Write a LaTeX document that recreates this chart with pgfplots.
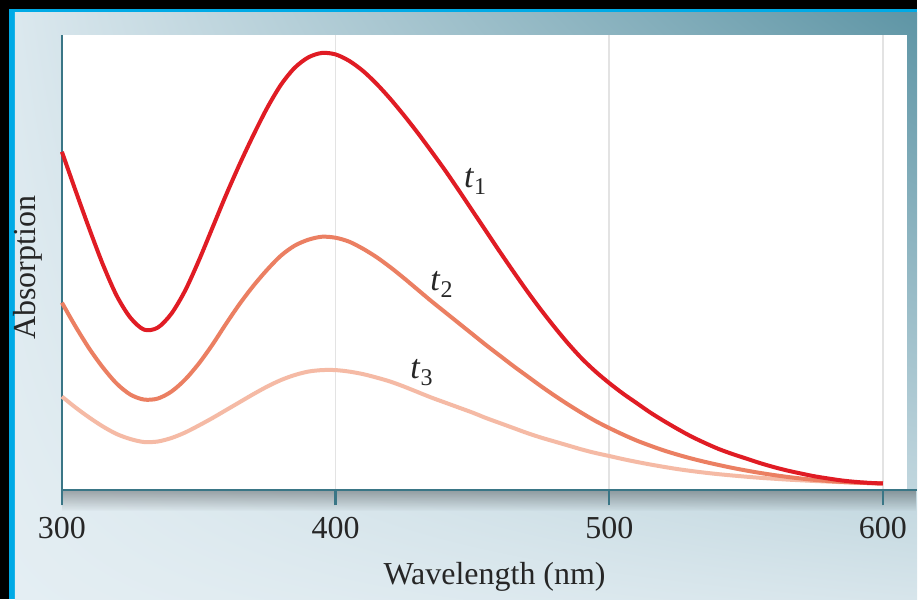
\documentclass[border=0pt]{standalone}
\usepackage{pgfplots}
\usepackage{pgfplotstable}
\pgfplotsset{compat=1.18}
\usepackage{fontspec}
\setmainfont{Liberation Serif}
\usetikzlibrary{fadings,shadings}
\definecolor{tone}{RGB}{224,28,36}
\definecolor{ttwo}{RGB}{235,127,98}
\definecolor{tthree}{RGB}{245,186,165}
\definecolor{axiscol}{RGB}{58,118,134}
\definecolor{framecyan}{RGB}{0,170,230}
\definecolor{pul}{RGB}{219,232,238}
\definecolor{pur}{RGB}{94,149,165}
\definecolor{pll}{RGB}{228,238,243}
\definecolor{plr}{RGB}{215,229,235}

% absorption spectra (arbitrary units)
\pgfplotstableread{
x y
300 339
305 300
310 262
315 226
320 195
325 173
330 161
335 163
340 177
345 200
350 230
355 263
360 296
365 327
370 356
375 383
380 406
385 423
390 433.5
395 438
400 436.5
405 430
410 420
415 407
420 392
425 375.5
430 358
435 339.5
440 320.5
445 300.5
450 280
455 259.5
460 239
465 219
470 199.5
475 181
480 163.5
485 147
490 132
495 119
500 107.5
505 97
510 87.5
515 78
520 69.5
525 61.5
530 54
535 47.5
540 41.5
545 36.5
550 32
555 27.5
560 23.5
565 20
570 17
575 14.2
580 12
585 10
590 8.6
595 7.6
600 7
}\tone
\pgfplotstableread{
x y
300 188
305 164
310 142
315 123
320 107
325 96
330 91
335 92
340 99
345 111
350 127
355 146
360 167
365 187
370 205
375 221
380 235
385 245
390 251
395 254
400 253
405 249
410 242
415 233.5
420 223.5
425 212.5
430 201
435 189.5
440 178.5
445 167.5
450 156.5
455 145.5
460 135
465 124.5
470 114.5
475 104.5
480 95
485 86
490 77.5
495 69.5
500 62.5
505 56
510 50
515 44.8
520 40
525 35.8
530 32
535 28.6
540 25.5
545 22.6
550 20
555 17.6
560 15.5
565 13.6
570 12
575 10.6
580 9.5
585 8.6
590 7.9
595 7.4
600 7
}\ttwo
\pgfplotstableread{
x y
300 94
305 83
310 73
315 64
320 56.5
325 51.5
330 48.5
335 49
340 52.5
345 58
350 65
355 72.5
360 80.5
365 88.5
370 96.5
375 104
380 110.5
385 115.5
390 119
395 120.5
400 120.5
405 119
410 116.5
415 113
420 109
425 104
430 98.5
435 93
440 88
445 83
450 78
455 72.5
460 67.5
465 62.5
470 57.5
475 53
480 49
485 45
490 41
495 37.5
500 34.5
505 31.4
510 28.6
515 26
520 23.6
525 21.4
530 19.5
535 17.8
540 16.3
545 15
550 13.8
555 12.7
560 11.8
565 10.9
570 10.2
575 9.5
580 8.9
585 8.3
590 7.8
595 7.4
600 7
}\tthree

\begin{document}
\begin{tikzpicture}
% frame and panel
\fill[black] (0pt,0pt) rectangle (459pt,300pt);
\fill[framecyan] (4.5pt,0pt) rectangle (459pt,295.5pt);
\shade[upper left=pul, upper right=pur, lower left=pll, lower right=plr] (7.5pt,0pt) rectangle (459pt,293.5pt);
\fill[black, opacity=0.3, path fading=south] (31pt,44pt) rectangle (459pt,54.5pt);
\begin{axis}[
  at={(31pt,54.5pt)}, anchor=south west,
  scale only axis,
  width=423pt, height=228pt,
  xmin=300, xmax=608.8,
  ymin=0, ymax=456,
  axis background/.style={fill=white},
  axis x line=bottom, axis y line=left,
  axis line style={-, axiscol, line width=1pt},
  xtick={300,400,500,600},
  ytick=\empty,
  xtick align=outside,
  major tick length=7.5pt,
  xtick style={draw=axiscol, line width=1.2pt},
  xmajorgrids,
  grid style={gray!22, line width=0.8pt},
  /pgf/number format/assume math mode=true,
  tick label style={font=\fontsize{16}{16}\selectfont, text=black!85},
  xticklabel style={yshift=-2.5pt},
  xlabel={Wavelength (nm)},
  ylabel={Absorption},
  label style={font=\fontsize{16}{16}\selectfont, text=black!85},
  xlabel style={at={(axis description cs:0.512,-0.189)}, anchor=center},
  ylabel style={at={(axis description cs:-0.040,0.489)}, anchor=center, rotate=0},
  clip=false,
]
\addplot[tthree, line width=2pt, smooth] table[x=x, y=y] {\tthree};
\addplot[ttwo, line width=2pt, smooth] table[x=x, y=y] {\ttwo};
\addplot[tone, line width=2pt, smooth] table[x=x, y=y] {\tone};
\node[font=\fontsize{17}{17}\selectfont, text=black!85] at (axis cs:451,309) {\textit{t}\raisebox{-0.45ex}{\fontsize{12}{12}\selectfont 1}};
\node[font=\fontsize{17}{17}\selectfont, text=black!85] at (axis cs:438.7,206) {\textit{t}\raisebox{-0.45ex}{\fontsize{12}{12}\selectfont 2}};
\node[font=\fontsize{17}{17}\selectfont, text=black!85] at (axis cs:431.4,118) {\textit{t}\raisebox{-0.45ex}{\fontsize{12}{12}\selectfont 3}};
\draw[axiscol, line width=1pt] (rel axis cs:1,0) -- ([xshift=5pt]rel axis cs:1,0);
% tick marks below the axis line
\pgfplotsinvokeforeach{300,400,500,600}{
  \draw[axiscol, line width=1.2pt] (axis cs:#1,0) -- ([yshift=-7.5pt]axis cs:#1,0);
}
\end{axis}
\end{tikzpicture}
\end{document}
